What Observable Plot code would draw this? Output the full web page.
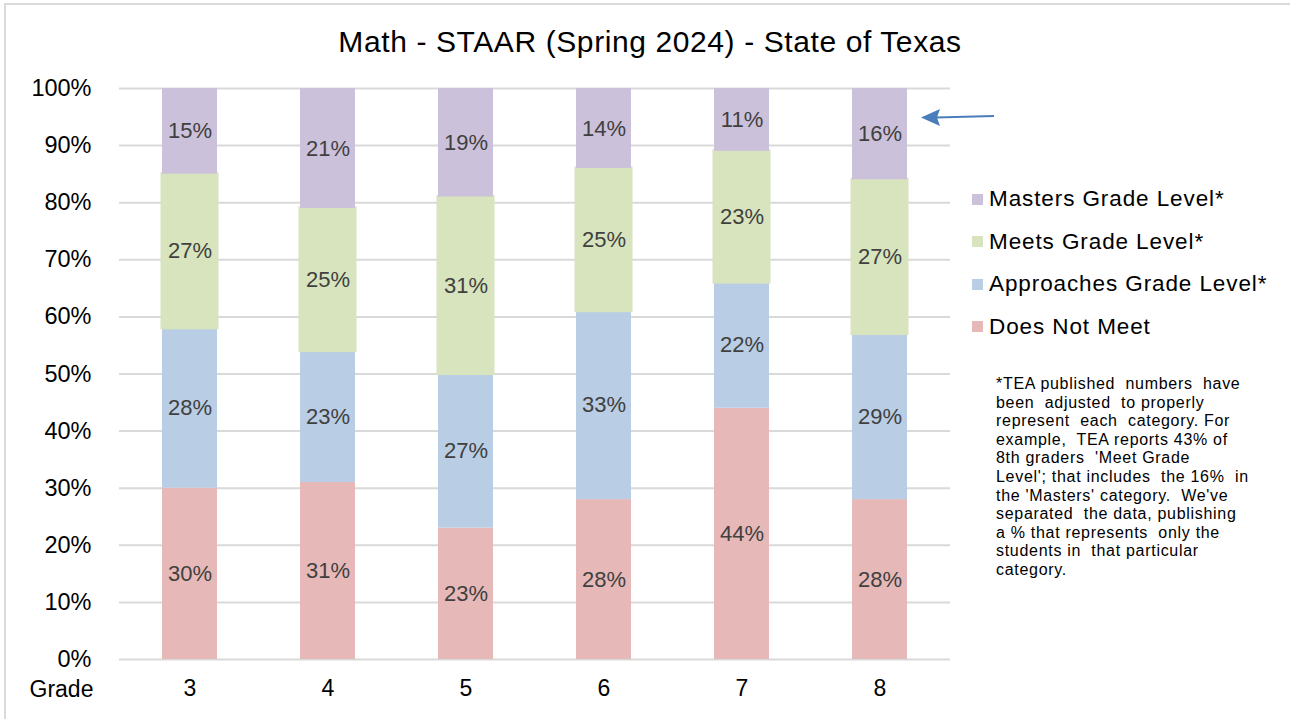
<!DOCTYPE html>
<html>
<head>
<meta charset="utf-8">
<script src="https://cdn.jsdelivr.net/npm/d3@7"></script>
<script src="https://cdn.jsdelivr.net/npm/@observablehq/plot@0.6"></script>
<style>
  html, body { margin: 0; padding: 0; background: #fff; }
  #wrap { position: relative; width: 1290px; height: 719px; background: #fff; overflow: hidden;
          font-family: "Liberation Sans", Arial, Helvetica, sans-serif; }
  #bt { position: absolute; left: 4px; top: 3px; width: 1290px; height: 2px; background: #d9d9d9; }
  #bl { position: absolute; left: 4px; top: 3px; width: 2px; height: 720px; background: #d9d9d9; }
  #title { position: absolute; left: 0; width: 1300px; top: 24px; text-align: center;
           font-size: 30px; letter-spacing: 0.6px; color: #000; line-height: 36px; }
  #chart { position: absolute; left: 0; top: 0; }
  #legend { position: absolute; left: 972px; top: 178px; }
  .li { display: flex; align-items: center; height: 42.5px; font-size: 22.5px; letter-spacing: 0.9px; color: #000; white-space: nowrap; }
  .sw { width: 11px; height: 11px; margin-right: 6px; flex: none; }
  #note { position: absolute; left: 996px; top: 375px; font-size: 16px; letter-spacing: 0.7px; line-height: 18.6px; color: #000; white-space: pre; }
  #arrow { position: absolute; left: 0; top: 0; }
</style>
</head>
<body>
<div id="wrap">
  <div id="bt"></div>
  <div id="bl"></div>
  <div id="chart"></div>
  <div id="title"></div>
  <div id="legend"></div>
  <div id="note"></div>
  <svg id="arrow" width="1290" height="719"></svg>
</div>
<script>
const titleText = "Math - STAAR (Spring 2024) - State of Texas";
const grades = ["3", "4", "5", "6", "7", "8"];
const categories = ["Does Not Meet", "Approaches Grade Level*", "Meets Grade Level*", "Masters Grade Level*"];
const colors = ["#e6b9b8", "#b9cde5", "#d7e4bd", "#ccc1da"];
const doesNotMeet = [30, 31, 23, 28, 44, 28];
const approaches = [28, 23, 27, 33, 22, 29];
const meets = [27, 25, 31, 25, 23, 27];
const masters = [15, 21, 19, 14, 11, 16];
const yTicks = [0, 10, 20, 30, 40, 50, 60, 70, 80, 90, 100];
const xAxisLabel = "Grade";
const noteLines = [
  "*TEA published  numbers  have",
  "been  adjusted  to properly",
  "represent  each  category. For",
  "example,  TEA reports 43% of",
  "8th graders  'Meet Grade",
  "Level'; that includes  the 16%  in",
  "the 'Masters' category.  We've",
  "separated  the data, publishing",
  "a % that represents  only the",
  "students in  that particular",
  "category."
];

const series = [doesNotMeet, approaches, meets, masters];
const data = [];
grades.forEach((g, i) => {
  categories.forEach((c, k) => data.push({grade: g, category: c, value: series[k][i]}));
});

document.getElementById("title").textContent = titleText;

const stackOpts = (extra) => Plot.stackY({x: "grade", y: "value", z: "category", order: categories, ...extra});

const plot = Plot.plot({
  width: 960,
  height: 719,
  marginLeft: 119,
  marginRight: 10,
  marginTop: 88,
  marginBottom: 60,
  style: {fontFamily: '"Liberation Sans", Arial, Helvetica, sans-serif', background: "transparent"},
  x: {domain: grades, paddingInner: 0.6, paddingOuter: 0.3},
  y: {domain: [0, 100]},
  color: {domain: categories, range: colors},
  marks: [
    Plot.gridY(yTicks, {stroke: "#d9d9d9", strokeWidth: 2, strokeOpacity: 1}),
    Plot.barY(data, stackOpts({fill: "category", stroke: "category", strokeWidth: 3,
      strokeOpacity: d => d.category === "Meets Grade Level*" ? 1 : 0})),
    Plot.text(data, stackOpts({text: d => d.value + "%", fill: "#404040", fontSize: 22, letterSpacing: "0.4px"})),
    Plot.axisY(yTicks, {tickSize: 0, tickPadding: 28, tickFormat: d => d + "%", fontSize: 23.5, letterSpacing: "0.6px", fill: "#000", label: null}),
    Plot.axisX({tickSize: 0, tickPadding: 20, fontSize: 23, fill: "#000", label: null}),
    Plot.text([xAxisLabel], {frameAnchor: "bottom-left", dx: -90, dy: 30, textAnchor: "start", lineAnchor: "middle", fontSize: 23, letterSpacing: "0.4px", fill: "#000"})
  ]
});
document.getElementById("chart").appendChild(plot);

// legend (top-to-bottom reversed order)
const legend = document.getElementById("legend");
[...categories].reverse().forEach(c => {
  const row = document.createElement("div");
  row.className = "li";
  const sw = document.createElement("span");
  sw.className = "sw";
  sw.style.background = colors[categories.indexOf(c)];
  const t = document.createElement("span");
  t.textContent = c;
  row.appendChild(sw); row.appendChild(t);
  legend.appendChild(row);
});

document.getElementById("note").textContent = noteLines.join("\n");

// annotation arrow pointing at grade 8 Masters segment
const svg = d3.select("#arrow");
svg.append("line").attr("x1", 994).attr("y1", 116).attr("x2", 936).attr("y2", 117.5)
  .attr("stroke", "#4a7ebb").attr("stroke-width", 2);
svg.append("path").attr("d", "M921,117.5 L940,109 L937,117.5 L940,126 Z").attr("fill", "#4a7ebb");
</script>
</body>
</html>
